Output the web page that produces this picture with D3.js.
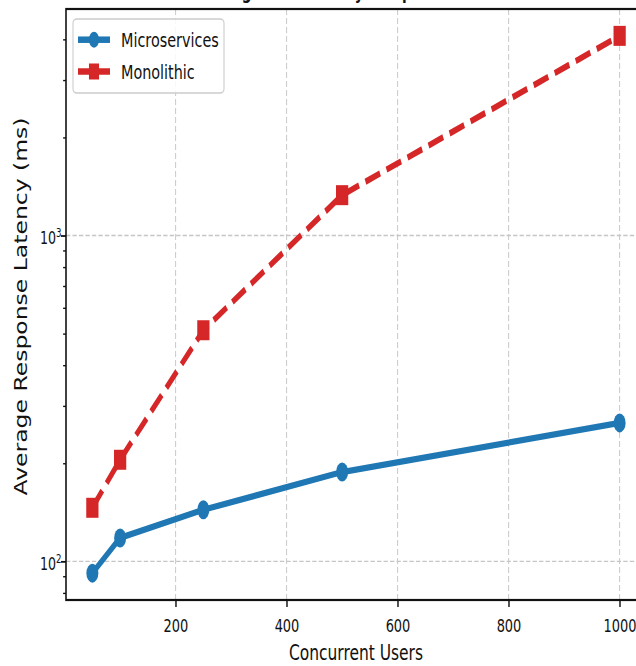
<!DOCTYPE html>
<html><head><meta charset="utf-8">
<script src="https://cdn.jsdelivr.net/npm/d3@7"></script>
<style>body{margin:0;background:#fff;} text{font-family:"DejaVu Sans",sans-serif;fill:#111;}</style>
</head><body><svg id="c" width="636" height="666"></svg>
<script>
const users = [50, 100, 250, 500, 1000];
const microservices = [92, 118, 144, 188, 266];
const monolithic = [146, 205, 512, 1330, 4100];
const xTicks = [200, 400, 600, 800, 1000];
const yMajor = [100, 1000];
const yMinor = [80, 90, 200, 300, 400, 500, 600, 700, 800, 900, 2000, 3000, 4000];
const seriesNames = ["Microservices", "Monolithic"];
const titleText = "Log-Scale Latency Comparison";
const xLabel = "Concurrent Users";
const yLabel = "Average Response Latency (ms)";

(function () {
const blue = "#1f77b4", red = "#d62728";
const sx = 0.72;
const svg = d3.select("#c");
svg.append("rect").attr("width", 636).attr("height", 666).attr("fill", "#fff");
const g = svg.append("g").attr("transform", `scale(${sx},1)`);
const pLeft = 66 / sx, pRight = 646 / sx, pTop = 9, pBottom = 600;

const [xa, xb] = d3.extent(users); const xp = (xb - xa) * 0.05;
const x = d3.scaleLinear().domain([xa - xp, xb + xp]).range([pLeft, pRight]);
const all = microservices.concat(monolithic);
const la = Math.log10(d3.min(all)), lb = Math.log10(d3.max(all)), lp = (lb - la) * 0.05;
const y = d3.scaleLog().domain([10 ** (la - lp), 10 ** (lb + lp)]).range([pBottom, pTop]);

// grid
const grid = g.append("g").attr("stroke", "#b8b8b8").attr("stroke-width", 1.3).attr("stroke-dasharray", "6,3").attr("opacity", 0.8);
xTicks.forEach(t => grid.append("line").attr("x1", x(t)).attr("x2", x(t)).attr("y1", pTop).attr("y2", pBottom));
yMajor.forEach(t => grid.append("line").attr("x1", pLeft).attr("x2", pRight).attr("y1", y(t)).attr("y2", y(t)));

// title (mostly above the visible area, as in the reference)
g.append("text").attr("x", 310.7).attr("y", -1.5).attr("font-size", 19).attr("font-weight", "bold").text(titleText);

// x axis
const xAxis = g.append("g").attr("transform", `translate(0,${pBottom})`)
  .call(d3.axisBottom(x).tickValues(xTicks).tickSize(7).tickFormat(d3.format("d")));
xAxis.select(".domain").remove();
xAxis.selectAll("line").attr("stroke", "#111").attr("stroke-width", 2);
xAxis.selectAll("text").attr("y", 32).attr("dy", null).attr("font-size", 18).attr("font-family", "DejaVu Sans").attr("fill", "#111");

// y axis major + minor ticks
const yAxis = g.append("g").attr("transform", `translate(${pLeft},0)`)
  .call(d3.axisLeft(y).tickValues(yMajor).tickSize(7).tickFormat(""));
yAxis.select(".domain").remove();
yAxis.selectAll("line").attr("stroke", "#111").attr("stroke-width", 1.8);
const yMinorAxis = g.append("g").attr("transform", `translate(${pLeft},0)`)
  .call(d3.axisLeft(y).tickValues(yMinor).tickSize(4).tickFormat(""));
yMinorAxis.select(".domain").remove();
yMinorAxis.selectAll("line").attr("stroke", "#111").attr("stroke-width", 1.4);

yMajor.forEach(t => {
  const tx = g.append("text").attr("x", 61.5 / sx).attr("y", y(t) + 8.8)
    .attr("text-anchor", "end").attr("font-size", 17.5);
  tx.append("tspan").text("10");
  tx.append("tspan").attr("dy", -7.5).attr("font-size", 12).text(String(Math.round(Math.log10(t))));
});

// spines
g.append("rect").attr("x", pLeft).attr("y", pTop).attr("width", pRight - pLeft).attr("height", pBottom - pTop)
  .attr("fill", "none").attr("stroke", "#111").attr("stroke-width", 2.2);

// axis labels
g.append("text").attr("x", (pLeft + pRight) / 2).attr("y", 660).attr("text-anchor", "middle")
  .attr("font-size", 21.5).text(xLabel);
g.append("text").attr("transform", `translate(${27 / sx},${(pTop + pBottom) / 2 + 2}) rotate(-90)`)
  .attr("text-anchor", "middle").attr("font-size", 23.5).text(yLabel);

// series
const pts = (vals) => users.map((u, i) => [u, vals[i]]);
const line = d3.line().x(d => x(d[0])).y(d => y(d[1]));
g.append("path").datum(pts(microservices)).attr("d", line).attr("fill", "none")
  .attr("stroke", blue).attr("stroke-width", 6.3).attr("stroke-linejoin", "round");
g.append("g").selectAll("ellipse").data(pts(microservices)).join("ellipse")
  .attr("cx", d => x(d[0])).attr("cy", d => y(d[1])).attr("rx", 8.3).attr("ry", 9.5).attr("fill", blue);

g.append("path").datum(pts(monolithic)).attr("d", line).attr("fill", "none")
  .attr("stroke", red).attr("stroke-width", 6.3).attr("stroke-dasharray", "22,9.6").attr("stroke-linejoin", "round");
g.append("g").selectAll("rect").data(pts(monolithic)).join("rect")
  .attr("x", d => x(d[0]) - 8.5).attr("y", d => y(d[1]) - 10).attr("width", 17).attr("height", 20).attr("fill", red);

// legend
const lg = g.append("g");
lg.append("rect").attr("x", 73 / sx).attr("y", 19).attr("width", (224 - 73) / sx).attr("height", 74)
  .attr("rx", 5.5).attr("ry", 4).attr("fill", "#fff").attr("fill-opacity", 0.85)
  .attr("stroke", "#cccccc").attr("stroke-width", 1.5);
const rows = [39.7, 71.5];
seriesNames.forEach((name, i) => {
  const cy = rows[i];
  const col = i === 0 ? blue : red;
  lg.append("line").attr("x1", 78 / sx).attr("x2", 110 / sx).attr("y1", cy).attr("y2", cy)
    .attr("stroke", col).attr("stroke-width", 6.5);
  if (i === 0) {
    lg.append("ellipse").attr("cx", 94 / sx).attr("cy", cy).attr("rx", 7).attr("ry", 8).attr("fill", col);
  } else {
    lg.append("rect").attr("x", 94 / sx - 7).attr("y", cy - 8).attr("width", 14).attr("height", 16).attr("fill", col);
  }
  lg.append("text").attr("x", 121 / sx).attr("y", cy + 7.2).attr("font-size", 20).text(name);
});
})();
</script></body></html>
